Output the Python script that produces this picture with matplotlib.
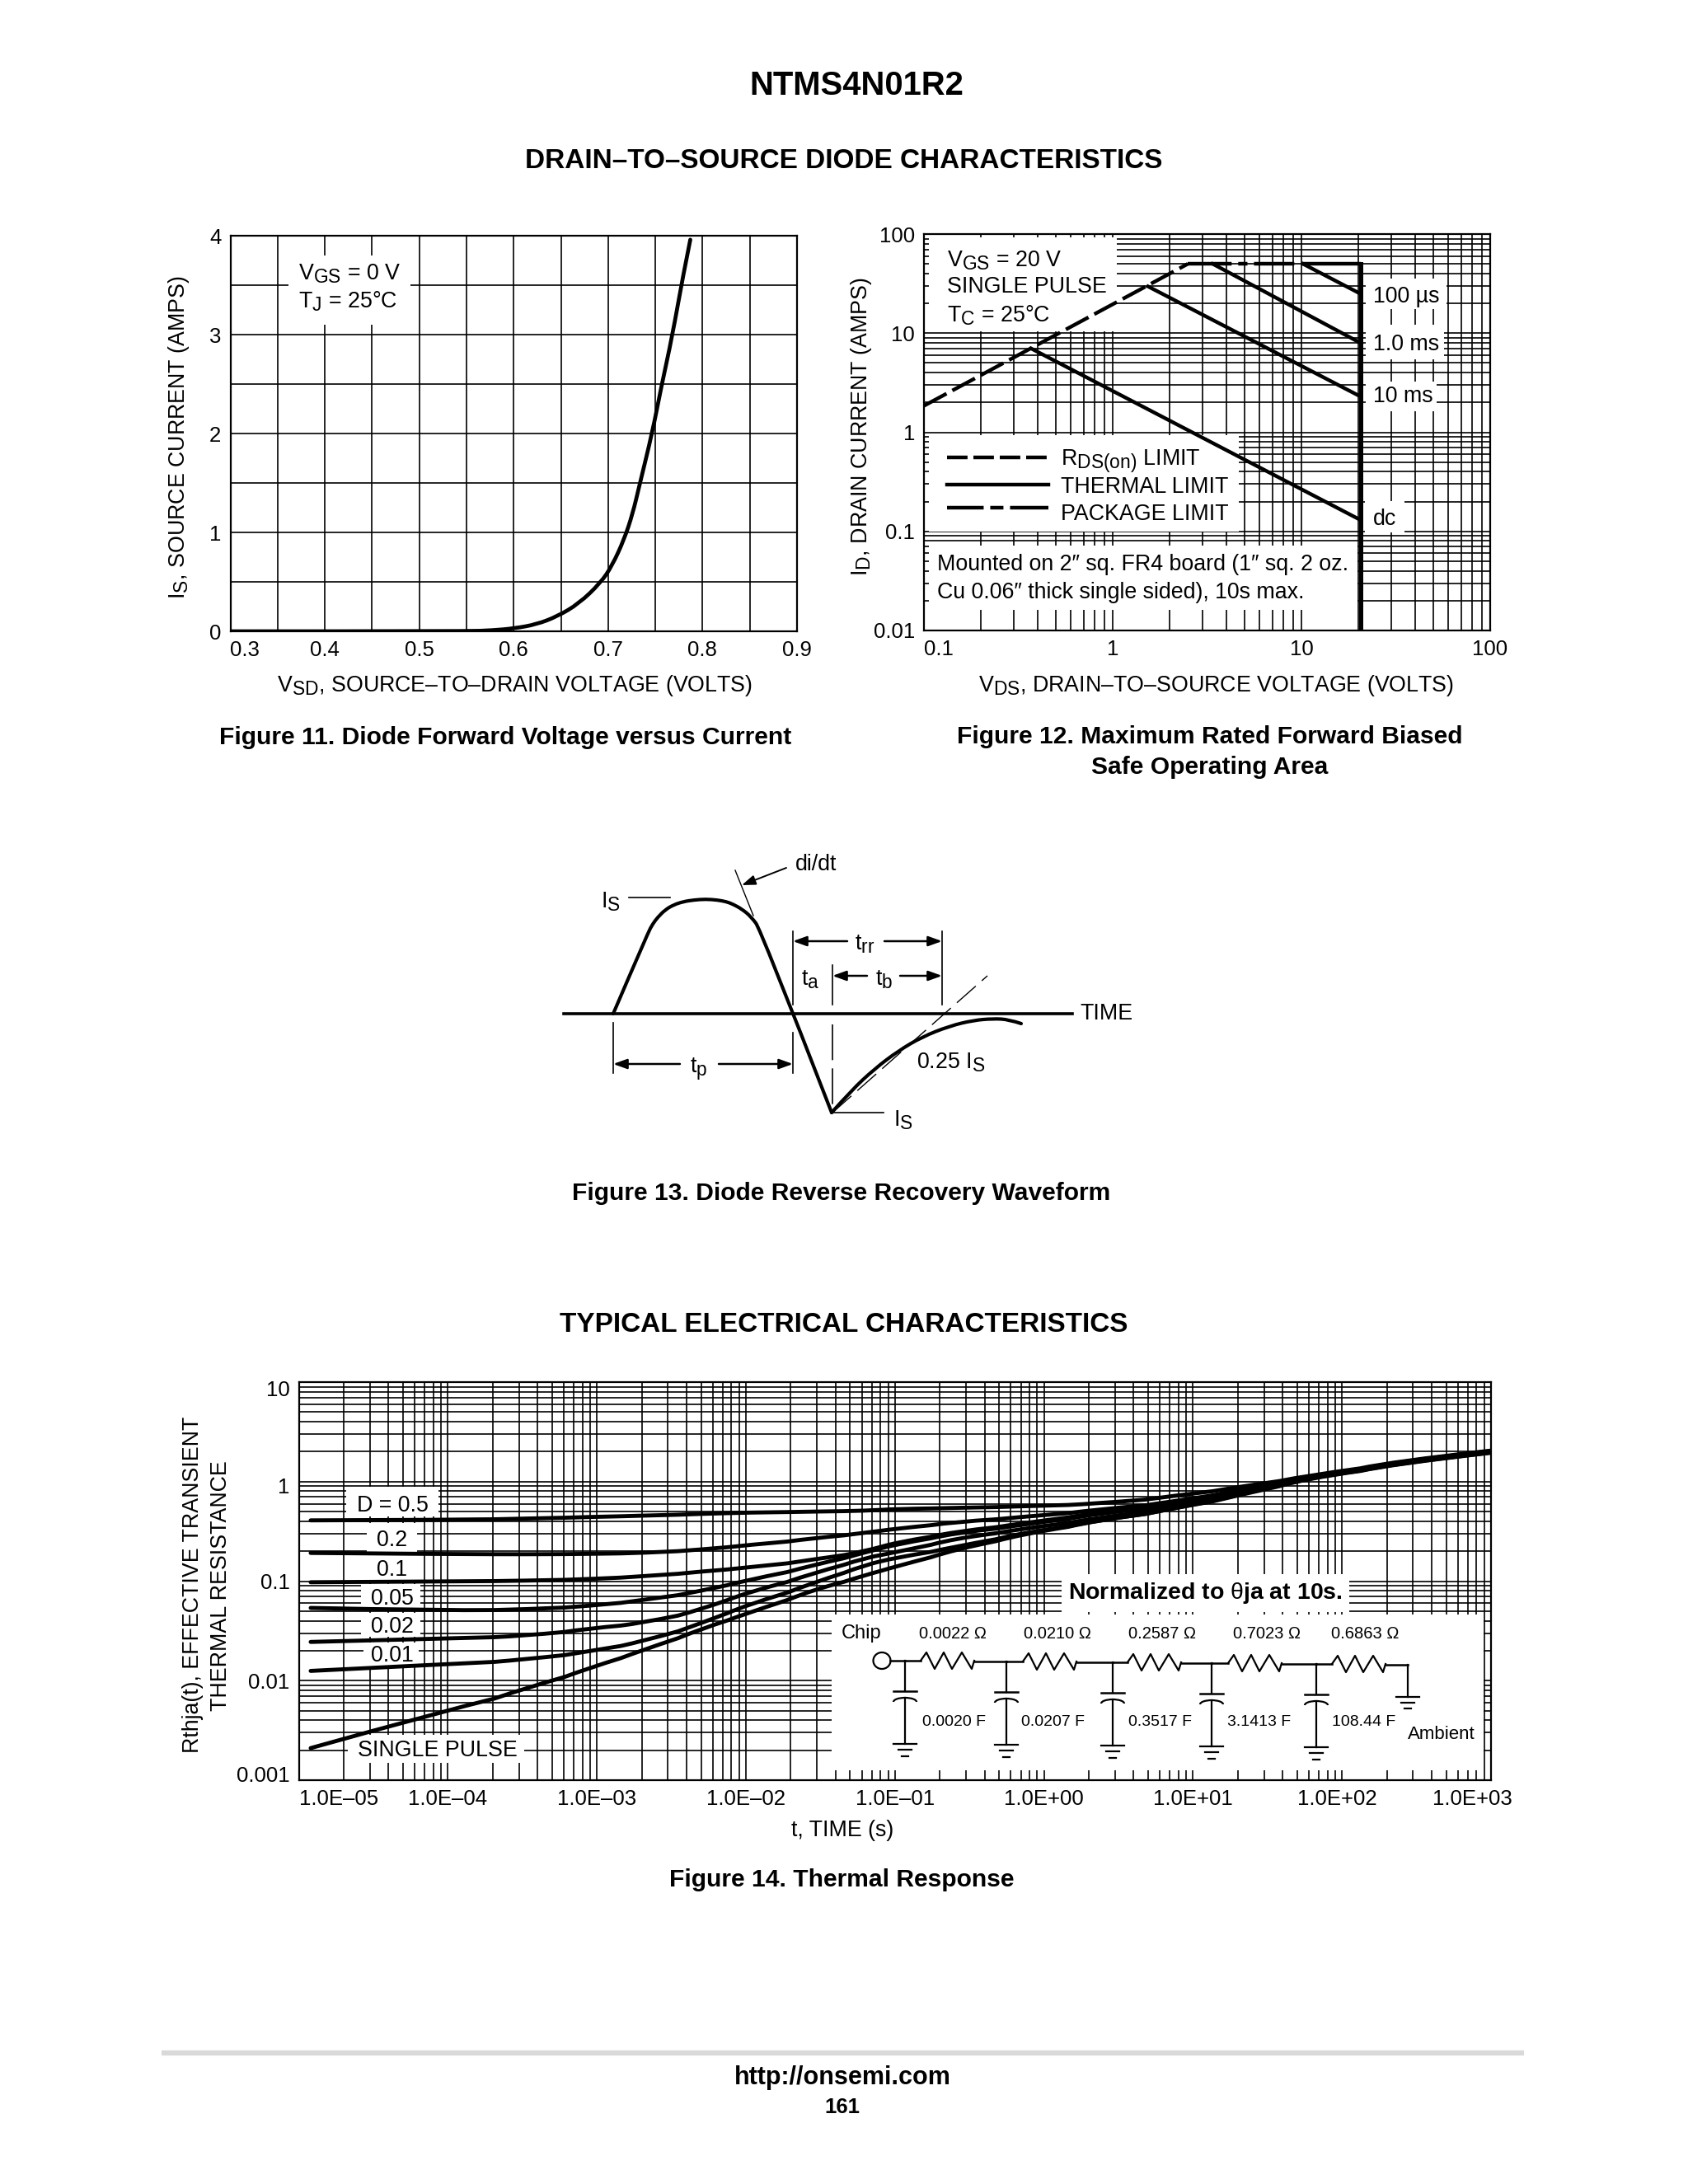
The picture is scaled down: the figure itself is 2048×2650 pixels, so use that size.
import numpy as np
import matplotlib
matplotlib.use("Agg")
import matplotlib._mathtext as mathtext_core
from matplotlib import pyplot as plt
from matplotlib.patches import Rectangle, Ellipse, Arc, PathPatch
from matplotlib.path import Path
from matplotlib.ticker import LogLocator, MultipleLocator, NullFormatter
from matplotlib.transforms import Affine2D

W, H = 2048, 2650
plt.rcParams['font.family'] = ['Liberation Sans', 'DejaVu Sans']
plt.rcParams['mathtext.fontset'] = 'custom'
plt.rcParams['mathtext.rm'] = 'Liberation Sans'
plt.rcParams['mathtext.it'] = 'Liberation Sans'
plt.rcParams['mathtext.default'] = 'rm'
mathtext_core.SHRINK_FACTOR = 0.85  # datasheet subscripts are nearly full size

# Figure 11
vsd = [0.30, 0.55, 0.578, 0.601, 0.624, 0.646, 0.669, 0.692, 0.704, 0.717, 0.726, 0.733, 0.747, 0.756, 0.768, 0.779, 0.787]
i_s = [0.0, 0.0, 0.01, 0.03, 0.07, 0.15, 0.28, 0.49, 0.66, 0.93, 1.19, 1.47, 2.02, 2.46, 2.99, 3.58, 3.96]
vsd_ticks = [0.3, 0.4, 0.5, 0.6, 0.7, 0.8, 0.9]
is_ticks = [0, 1, 2, 3, 4]

# Figure 12
rds_v, rds_i = [0.1, 2.5], [1.85, 50]
pkg_v, pkg_i = [2.5, 20.6], [50, 50]
wall_v, wall_i = [20.6, 20.6], [50, 0.01]
us100_v, us100_i = [10.2, 20.6], [50, 24.9]
ms1_v, ms1_i = [3.39, 20.6], [50, 7.94]
ms10_v, ms10_i = [1.54, 20.6], [29.6, 2.29]
dc_v, dc_i = [0.37, 20.6], [7.0, 0.13]
vds_ticks = [0.1, 1, 10, 100]
vds_labels = ['0.1', '1', '10', '100']
id_ticks = [0.01, 0.1, 1, 10, 100]
id_labels = ['0.01', '0.1', '1', '10', '100']

# Figure 14
time_s = [1.2e-5, 9.3e-5, 3.2e-4, 8.9e-4, 2.0e-3, 5.0e-3, 1.0e-2, 2.8e-2, 6.3e-2, 0.10, 0.25, 0.70, 2.2, 7.4, 20, 56, 210, 1000]
d_50 = [0.408, 0.412, 0.425, 0.442, 0.455, 0.475, 0.489, 0.500, 0.510, 0.531, 0.545, 0.565, 0.60, 0.72, 0.885, 1.14, 1.58, 2.05]
d_20 = [0.192, 0.187, 0.186, 0.188, 0.192, 0.208, 0.23, 0.27, 0.307, 0.336, 0.394, 0.442, 0.523, 0.634, 0.825, 1.12, 1.56, 2.03]
d_10 = [0.0975, 0.0993, 0.101, 0.105, 0.112, 0.125, 0.137, 0.165, 0.20, 0.244, 0.315, 0.381, 0.492, 0.614, 0.80, 1.11, 1.55, 2.01]
d_05 = [0.0538, 0.0505, 0.052, 0.0565, 0.0645, 0.08, 0.102, 0.145, 0.195, 0.234, 0.305, 0.369, 0.476, 0.594, 0.793, 1.10, 1.54, 2.00]
d_02 = [0.0245, 0.0265, 0.0282, 0.0335, 0.038, 0.0521, 0.0767, 0.12, 0.172, 0.195, 0.269, 0.336, 0.433, 0.558, 0.767, 1.09, 1.52, 1.98]
d_01 = [0.01253, 0.0146, 0.0163, 0.0198, 0.0248, 0.0378, 0.0574, 0.0962, 0.146, 0.172, 0.222, 0.305, 0.406, 0.541, 0.743, 1.08, 1.50, 1.96]
single = [0.0021, 0.00495, 0.0083, 0.01346, 0.0202, 0.0332, 0.0473, 0.082, 0.115, 0.14, 0.208, 0.296, 0.406, 0.541, 0.729, 1.07, 1.49, 1.95]
t_ticks = [1e-5, 1e-4, 1e-3, 1e-2, 1e-1, 1e0, 1e1, 1e2, 1e3]
t_labels = ['1.0E–05', '1.0E–04', '1.0E–03', '1.0E–02', '1.0E–01', '1.0E+00', '1.0E+01', '1.0E+02', '1.0E+03']
r_ticks = [0.001, 0.01, 0.1, 1, 10]
r_labels = ['0.001', '0.01', '0.1', '1', '10']

# Figure 13 waveform, page pixels since the sketch has no scale
pulse_x = [744, 786, 792, 798, 807, 817, 829, 842, 856, 870, 881, 889, 900, 911, 923, 1009]
pulse_y = [1230, 1132, 1121, 1113, 1104, 1098, 1094, 1092, 1091, 1092, 1094, 1097, 1103, 1112, 1128, 1350]
recov_x = [1009, 1033, 1061, 1090, 1119, 1152, 1181, 1205, 1224, 1239]
recov_y = [1350, 1323, 1297, 1275, 1258, 1245, 1238, 1236, 1237, 1242]

# Circuit values
res_labels = ['0.0022 Ω', '0.0210 Ω', '0.2587 Ω', '0.7023 Ω', '0.6863 Ω']
res_label_x = [1156, 1283, 1410, 1537, 1656]
res_start_x = [1117, 1241, 1368, 1490, 1616]
cap_labels = ['0.0020 F', '0.0207 F', '0.3517 F', '3.1413 F', '108.44 F']
cap_label_x = [1119, 1239, 1369, 1489, 1616]
node_x = [1098, 1221, 1350, 1470, 1597]
node_y = [2015, 2016, 2017, 2018, 2019]


def make_axes(left, top, right, bottom):
    ax = fig.add_axes([left / W, 1 - bottom / H, (right - left) / W, (bottom - top) / H])
    ax.set_axisbelow(True)
    for s in ax.spines.values():
        s.set_linewidth(1.6)
    return ax


def log_grid(ax):
    ax.xaxis.set_minor_locator(LogLocator(base=10, subs=range(2, 10), numticks=20))
    ax.yaxis.set_minor_locator(LogLocator(base=10, subs=range(2, 10), numticks=20))
    ax.xaxis.set_minor_formatter(NullFormatter())
    ax.yaxis.set_minor_formatter(NullFormatter())
    ax.grid(which='both', color='black', lw=1.2)
    ax.tick_params(which='both', length=0, labelsize=18.5, pad=8)


def mask(ax, x0, y0, x1, y1):
    ax.add_patch(Rectangle((x0, y0), x1 - x0, y1 - y0, transform=pg.transData, fc='white', ec='none', zorder=1.5))


def label(x, y, s, size=19.3, ha='center', va='center', **kw):
    pg.text(x, y + 2, s, fontsize=size, ha=ha, va=va, color='black', **kw)


def smooth(ax, xs, ys, lw):
    # quadratic segments through the midpoints, so the read points leave no corners
    pts = np.column_stack([xs, ys])
    verts = [pts[0]]
    for p, q in zip(pts[1:-1], pts[2:]):
        verts += [p, (p + q) / 2]
    verts[-1] = pts[-1]
    codes = [Path.MOVETO] + [Path.CURVE3] * (len(verts) - 1)
    ax.add_patch(PathPatch(Path(verts, codes), fc='none', ec='black', lw=lw, capstyle='round', joinstyle='round', zorder=2))


def arrow(x0, y, x1):
    pg.annotate('', xy=(x1, y), xytext=(x0, y),
                arrowprops=dict(arrowstyle='-|>,head_length=1.0,head_width=0.36', color='black', lw=1.8,
                                shrinkA=0, shrinkB=0))


def thin(xs, ys, lw=1.2, **kw):
    pg.plot(xs, ys, color='black', lw=lw, **kw)


fig = plt.figure(figsize=(W / 100, H / 100), dpi=100, facecolor='white')
pg = fig.add_axes([0, 0, 1, 1], zorder=10)
pg.set_xlim(0, W)
pg.set_ylim(H, 0)
pg.axis('off')

# page text
label(1039, 102, 'NTMS4N01R2', size=28.8, fontweight='bold')
label(1024, 194, 'DRAIN–TO–SOURCE DIODE CHARACTERISTICS', size=24, fontweight='bold')
label(613, 893, 'Figure 11. Diode Forward Voltage versus Current', size=21.6, fontweight='bold')
label(1468, 892, 'Figure 12. Maximum Rated Forward Biased', size=21.6, fontweight='bold')
label(1468, 929, 'Safe Operating Area', size=21.6, fontweight='bold')
label(1021, 1446, 'Figure 13. Diode Reverse Recovery Waveform', size=21.6, fontweight='bold')
label(1024, 1605, 'TYPICAL ELECTRICAL CHARACTERISTICS', size=24, fontweight='bold')
label(1021, 2279, 'Figure 14. Thermal Response', size=21.6, fontweight='bold')
label(1022, 2519, 'http://onsemi.com', size=22, fontweight='bold')
label(1022, 2555, '161', size=18.5, fontweight='bold')
pg.plot([196, 1849], [2491, 2491], color='#d9d9d9', lw=4.5, solid_capstyle='butt')

# Figure 11
ax = make_axes(279.5, 286, 967, 766)
smooth(ax, vsd, i_s, 3.4)
ax.set_xlim(0.3, 0.9)
ax.set_ylim(0, 4)
ax.set_xticks(vsd_ticks, [f'{v:.1f}' for v in vsd_ticks])
ax.set_yticks(is_ticks)
ax.xaxis.set_minor_locator(MultipleLocator(0.05))
ax.yaxis.set_minor_locator(MultipleLocator(0.5))
ax.grid(which='both', color='black', lw=1.2)
ax.tick_params(which='both', length=0, labelsize=18.5, pad=8)
ax.get_xticklabels()[0].set_ha('left')
mask(ax, 350, 310, 498, 394)
label(625, 830, '$\\mathrm{V_{SD}}$, SOURCE–TO–DRAIN VOLTAGE (VOLTS)')
label(217, 529, '$\\mathrm{I_{S}}$, SOURCE CURRENT (AMPS)', rotation=90)
label(362, 330, '$\\mathrm{V_{GS}}$ = 0 V', ha='left')
label(362, 364, '$\\mathrm{T_{J}}$ = 25°C', ha='left')

# Figure 12
ax = make_axes(1121, 284, 1808, 765)
ax.set_xscale('log')
ax.set_yscale('log')
ax.plot(rds_v, rds_i, color='black', lw=3.2, ls=(0, (7, 1.8)))
ax.plot(pkg_v, pkg_i, color='black', lw=3.2, ls=(0, (12, 1.8, 2.5, 1.8, 11, 2, 15, 0)))
ax.plot(wall_v, wall_i, color='black', lw=3.6)
for xs, ys in [(us100_v, us100_i), (ms1_v, ms1_i), (ms10_v, ms10_i), (dc_v, dc_i)]:
    ax.plot(xs, ys, color='black', lw=3.2)
ax.set_xlim(0.1, 100)
ax.set_ylim(0.01, 100)
ax.set_xticks(vds_ticks, vds_labels)
ax.set_yticks(id_ticks, id_labels)
log_grid(ax)
ax.get_xticklabels()[0].set_ha('left')
mask(ax, 1127, 288, 1355, 402)
mask(ax, 1657, 338, 1755, 375)
mask(ax, 1657, 394, 1752, 436)
mask(ax, 1657, 463, 1743, 499)
mask(ax, 1656, 608, 1704, 646)
mask(ax, 1127, 528, 1503, 645)
mask(ax, 1127, 662, 1647, 740)
label(1476, 830, '$\\mathrm{V_{DS}}$, DRAIN–TO–SOURCE VOLTAGE (VOLTS)')
label(1045, 516, '$\\mathrm{I_{D}}$, DRAIN CURRENT (AMPS)', rotation=90)
label(1149, 314, '$\\mathrm{V_{GS}}$ = 20 V', ha='left')
label(1149, 346, 'SINGLE PULSE', ha='left')
label(1149, 381, '$\\mathrm{T_{C}}$ = 25°C', ha='left')
label(1666, 358, '100 µs', ha='left')
label(1666, 416, '1.0 ms', ha='left')
label(1666, 479, '10 ms', ha='left')
label(1666, 628, 'dc', ha='left')
legend_x = [1149, 1272]
pg.plot(legend_x, [555, 555], color='black', lw=3.2, ls=(0, (5.6, 1.6)))
pg.plot(legend_x, [588, 588], color='black', lw=3.2)
pg.plot(legend_x, [616, 616], color='black', lw=3.2, ls=(0, (10, 1.8, 3.6, 1.8, 10, 0)))
label(1287, 558, '$\\mathrm{R_{DS(on)}}$ LIMIT', ha='left')
label(1287, 589, 'THERMAL LIMIT', ha='left')
label(1287, 622, 'PACKAGE LIMIT', ha='left')
label(1137, 683, 'Mounted on 2″ sq. FR4 board (1″ sq. 2 oz.', ha='left')
label(1137, 717, 'Cu 0.06″ thick single sided), 10s max.', ha='left')

# Figure 13
thin([684, 1301], [1230, 1230], lw=2.6)
smooth(pg, pulse_x, pulse_y, 3.0)
smooth(pg, recov_x, recov_y, 3.0)
thin([892, 914], [1056, 1111], lw=1.0)
pg.annotate('', xy=(900, 1074), xytext=(954, 1053),
            arrowprops=dict(arrowstyle='-|>,head_length=1.0,head_width=0.36', color='black', lw=1.4, shrinkA=0, shrinkB=0))
thin([763, 813], [1089, 1089])
thin([962, 962], [1130, 1219])
thin([962, 962], [1253, 1302])
thin([744, 744], [1241, 1302])
thin([1143, 1143], [1130, 1219])
thin([1010, 1010], [1171, 1219])
thin([1010, 1010], [1243, 1350], ls=(0, (26, 6)))
thin([1010, 1198], [1350, 1184], lw=1.0, ls=(0, (22, 7)))
thin([1010, 1072], [1350, 1350])
arrow(1028, 1142, 962)
arrow(1073, 1142, 1143)
arrow(1052, 1184, 1010)
arrow(1092, 1184, 1143)
arrow(825, 1291, 744)
arrow(872, 1291, 962)
label(990, 1047, 'di/dt')
label(741, 1092, '$\\mathrm{I_{S}}$')
label(1049, 1144, '$\\mathrm{t_{rr}}$')
label(983, 1187, '$\\mathrm{t_{a}}$')
label(1073, 1187, '$\\mathrm{t_{b}}$')
label(848, 1295, '$\\mathrm{t_{p}}$')
label(1310, 1228, 'TIME', ha='left')
label(1112, 1287, '0.25 $\\mathrm{I_{S}}$', ha='left')
label(1084, 1357, '$\\mathrm{I_{S}}$', ha='left')

# Figure 14
ax = make_axes(362.6, 1677, 1809, 2160)
ax.set_xscale('log')
ax.set_yscale('log')
for series in [d_50, d_20, d_10, d_05, d_02, d_01, single]:
    smooth(ax, time_s, series, 3.5)
ax.set_xlim(1e-5, 1e3)
ax.set_ylim(0.001, 10)
ax.set_xticks(t_ticks, t_labels)
ax.set_yticks(r_ticks, r_labels)
log_grid(ax)
xlabs = ax.get_xticklabels()
xlabs[0].set_ha('left')
xlabs[-1].set_transform(xlabs[-1].get_transform() + Affine2D().translate(-23, 0))
xlabs[-2].set_transform(xlabs[-2].get_transform() + Affine2D().translate(-6, 0))
# the datasheet sets these three off their grid lines
ylabs = ax.get_yticklabels()
for n, dy in zip([0, 3, 4], [8, -5, -7]):
    ylabs[n].set_transform(ylabs[n].get_transform() + Affine2D().translate(0, dy))
mask(ax, 420, 1804, 532, 1840)
mask(ax, 445, 1848, 506, 1884)
mask(ax, 445, 1884, 506, 1918)
mask(ax, 438, 1922, 510, 1951)
mask(ax, 438, 1957, 510, 1986)
mask(ax, 441, 1993, 508, 2022)
mask(ax, 422, 2105, 636, 2139)
mask(ax, 1288, 1910, 1637, 1956)
mask(ax, 1009, 1959, 1800, 2148)
label(1022, 2219, 't, TIME (s)')
label(234, 1921, 'Rthja(t), EFFECTIVE TRANSIENT', rotation=90)
label(268, 1922, 'THERMAL RESISTANCE', rotation=90)
label(476, 1825, 'D = 0.5')
for txt, yy in zip(['0.2', '0.1', '0.05', '0.02', '0.01'], [1867, 1903, 1938, 1972, 2007]):
    label(476, yy, txt)
label(531, 2122, 'SINGLE PULSE')

# Normalisation note and thermal network
label(1462, 1931, 'Normalized to $θ$ja at 10s.', size=20.5, fontweight='bold')
label(1021, 1980, 'Chip', ha='left', size=17)
label(1708, 2103, 'Ambient', ha='left', size=16)
for txt, xx in zip(res_labels, res_label_x):
    label(xx, 1980, txt, size=14.5)
for txt, xx in zip(cap_labels, cap_label_x):
    label(xx, 2088, txt, ha='left', size=14)

pg.add_patch(Ellipse((1070, 2015), 21, 20, fc='white', ec='black', lw=1.6))
thin([1080, node_x[0]], [2015, 2015], lw=1.8)
zig = np.array([0, 7, 17, 28, 38, 50, 62, 65])
zag = np.array([0, -10, 10, -10, 10, -10, 10, 0])
for n, (nx, ny, rx) in enumerate(zip(node_x, node_y, res_start_x)):
    thin([nx, rx], [ny, ny], lw=1.8)
    thin(rx + zig, ny + zag, lw=1.6)
    end_x = node_x[n + 1] if n < 4 else 1708
    end_y = node_y[n + 1] if n < 4 else 2020
    thin([rx + 65, end_x], [end_y, end_y], lw=1.8)
    # capacitor branch down to its ground
    thin([nx, nx], [ny, ny + 37], lw=1.6)
    thin([nx - 14, nx + 14], [ny + 37, ny + 37], lw=1.8)
    pg.add_patch(Arc((nx, ny + 50), 28, 10, theta1=180, theta2=360, ec='black', lw=1.6))
    thin([nx, nx], [ny + 45, ny + 101], lw=1.6)
    for half, dy in zip([14, 8, 4], [101, 108, 116]):
        thin([nx - half, nx + half], [ny + dy, ny + dy], lw=1.6)
thin([1708, 1708], [2020, 2059], lw=1.6)
for half, dy in zip([14, 8, 4], [2059, 2066, 2073]):
    thin([1708 - half, 1708 + half], [dy, dy], lw=1.6)

pg.set_xlim(0, W)
pg.set_ylim(H, 0)
fig.savefig('out.png', dpi=100, facecolor='white')
